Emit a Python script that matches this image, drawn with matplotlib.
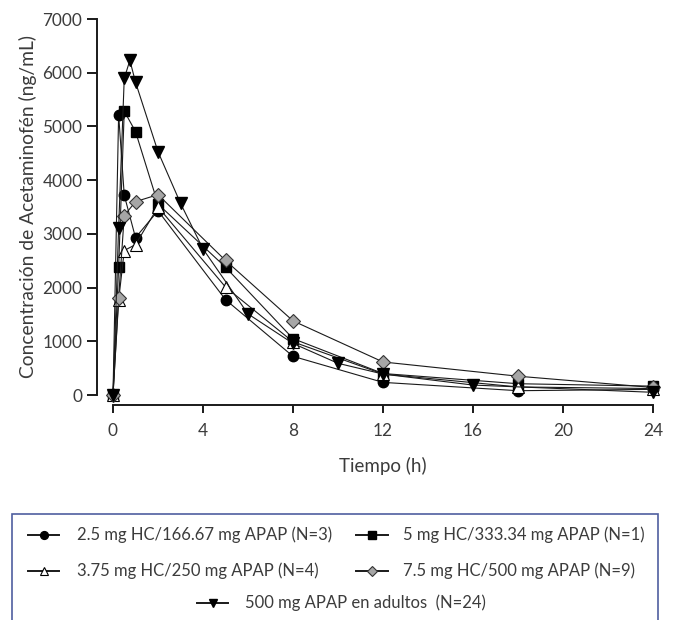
import matplotlib
matplotlib.use("Agg")
import matplotlib.pyplot as plt
from matplotlib.lines import Line2D
from matplotlib.patches import Rectangle

plt.rcParams['font.family'] = ['Lato', 'DejaVu Sans']

# Data
t_25 = [0, 0.25, 0.5, 1, 2, 5, 8, 12, 18, 24]
c_25 = [0, 5220, 3720, 2930, 3430, 1775, 720, 235, 80, 105]

t_5 = [0, 0.25, 0.5, 1, 2, 5, 8, 12, 18, 24]
c_5 = [0, 2380, 5285, 4905, 3555, 2380, 1050, 400, 210, 165]

t_375 = [0, 0.25, 0.5, 1, 2, 5, 8, 12, 18, 24]
c_375 = [0, 1760, 2690, 2800, 3500, 2010, 990, 390, 150, 120]

t_75 = [0, 0.25, 0.5, 1, 2, 5, 8, 12, 18, 24]
c_75 = [0, 1810, 3340, 3600, 3730, 2505, 1380, 615, 350, 140]

t_ad = [0, 0.25, 0.5, 0.75, 1, 2, 3, 4, 6, 8, 10, 12, 16, 24]
c_ad = [0, 3110, 5895, 6230, 5825, 4530, 3570, 2720, 1510, 960, 590, 390, 185, 50]

labels = ["2.5 mg HC/166.67 mg APAP (N=3)",
          "5 mg HC/333.34 mg APAP (N=1)",
          "3.75 mg HC/250 mg APAP (N=4)",
          "7.5 mg HC/500 mg APAP (N=9)",
          "500 mg APAP en adultos  (N=24)"]

xticks = [0, 4, 8, 12, 16, 20, 24]
yticks = [0, 1000, 2000, 3000, 4000, 5000, 6000, 7000]

W, H = 673, 620
fig = plt.figure(figsize=(W/100, H/100), dpi=100)
ax = fig.add_axes([113/W, (H-395)/H, (653-113)/W, (395-19)/H])

lw = 0.8
line_c = '#1a1a1a'
text_c = '#3c3c3c'
styles = [
    dict(marker='o', mfc='black', mec='black', ms=7.5),
    dict(marker='s', mfc='black', mec='black', ms=7.5),
    dict(marker='^', mfc='white', mec='black', ms=8, mew=0.8),
    dict(marker='D', mfc='#a6a6a6', mec='#333333', ms=7, mew=0.8),
    dict(marker='v', mfc='black', mec='black', ms=8.5),
]
series = [(t_25, c_25), (t_5, c_5), (t_375, c_375), (t_75, c_75), (t_ad, c_ad)]
for (tt, cc), st, lab in zip(series, styles, labels):
    ax.plot(tt, cc, color=line_c, lw=lw, clip_on=False, label=lab, **st)

ax.set_xlim(0, 24)
ax.set_ylim(0, 7000)
ax.set_xticks(xticks)
ax.set_yticks(yticks)
for s in ['top', 'right']:
    ax.spines[s].set_visible(False)
ax.spines['left'].set_position(('outward', 11.5))
ax.spines['bottom'].set_position(('outward', 7.2))
ax.spines['left'].set_bounds(0, 7000)
ax.spines['bottom'].set_bounds(0, 24)
for s in ['left', 'bottom']:
    ax.spines[s].set_linewidth(1.4)
    ax.spines[s].set_color('#1a1a1a')
ax.tick_params(axis='y', direction='out', length=7.5, width=1.4, labelsize=12.4,
               pad=3, colors='#1a1a1a', labelcolor=text_c)
ax.tick_params(axis='x', direction='out', length=5.8, width=1.4, labelsize=12.4,
               pad=7, colors='#1a1a1a', labelcolor=text_c)
ax.set_xlabel("Tiempo (h)", fontsize=13.5, labelpad=13, color=text_c)
ax.set_ylabel("Concentración de Acetaminofén (ng/mL)", fontsize=13.9, labelpad=4, color=text_c)

# legend box
fig.patches.append(Rectangle((12/W, -0.01), (658-12)/W, (H-514)/H + 0.01, transform=fig.transFigure,
                             fill=False, edgecolor='#4f5f9f', lw=1.2))

leg_pos = [  # (line x0, line x1, y, text x)
    (28, 59, 535, 77),
    (356, 388, 535, 403),
    (28, 59, 571, 77),
    (356, 388, 571, 403),
    (197, 228, 603, 245),
]
for (x0, x1, y, tx), st, lab in zip(leg_pos, styles, labels):
    fy = (H - y) / H
    fig.add_artist(Line2D([x0/W, x1/W], [fy, fy], transform=fig.transFigure,
                          color=line_c, lw=1.4))
    st2 = dict(st)
    st2['ms'] = st['ms'] * 0.75
    fig.add_artist(Line2D([(x0 + x1) / 2 / W], [fy], transform=fig.transFigure,
                          linestyle='none', **st2))
    fig.text(tx/W, fy, lab, fontsize=12, color=text_c, va='center', ha='left')

fig.savefig("out.png", dpi=100)
